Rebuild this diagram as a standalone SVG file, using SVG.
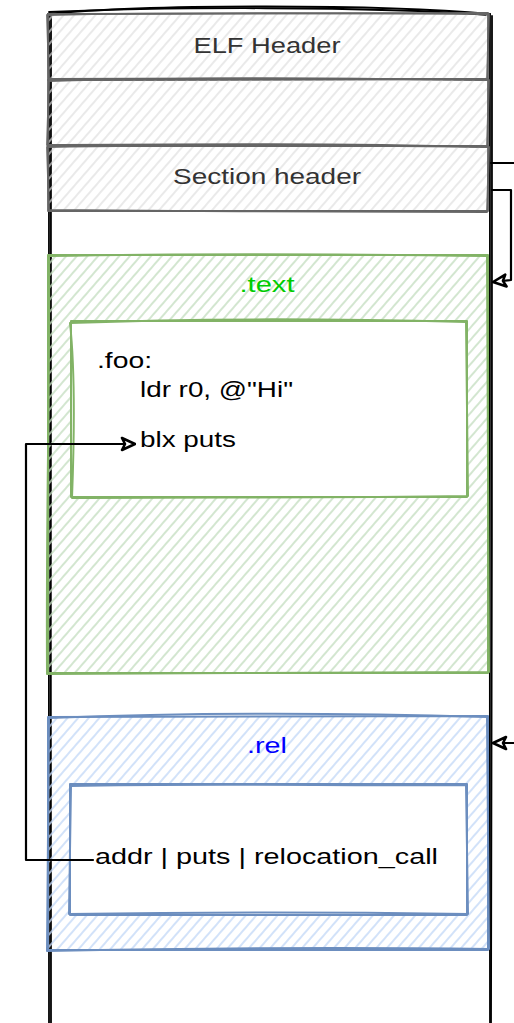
<svg xmlns="http://www.w3.org/2000/svg" width="514" height="1023" viewBox="0 0 514 1023">
<style>
  .sk { fill: none; stroke-linecap: round; stroke-linejoin: round; }
  .gray { stroke: #666666; stroke-width: 1.8; }
  .green { stroke: #82b366; stroke-width: 2; }
  .blue { stroke: #6c8ebf; stroke-width: 2; }
  .ink { stroke: #000000; stroke-width: 1.8; }
  .t { font-family: "Liberation Sans", Arial, sans-serif; font-size: 22px; }
  .hd { fill: #333333; text-anchor: middle; }
  .code { fill: #000000; }
  .conn { fill: none; stroke: #000000; stroke-width: 2.2; stroke-linejoin: round; stroke-linecap: round; }
</style>
<defs>
  <pattern id="hatchGray" patternUnits="userSpaceOnUse" width="8" height="8" patternTransform="rotate(41)">
    <line x1="2" y1="0" x2="2" y2="8" stroke="#dedede" stroke-width="1.3"/>
  </pattern>
  <pattern id="hatchGreen" patternUnits="userSpaceOnUse" width="8" height="8" patternTransform="rotate(41)">
    <line x1="2" y1="0" x2="2" y2="8" stroke="#c4dec1" stroke-width="1.5"/>
  </pattern>
  <pattern id="hatchBlue" patternUnits="userSpaceOnUse" width="8" height="8" patternTransform="rotate(41)">
    <line x1="2" y1="0" x2="2" y2="8" stroke="#c3d9f7" stroke-width="1.5"/>
  </pattern>
  <marker id="openArrow" viewBox="0 0 16 16" refX="15" refY="8" markerWidth="16" markerHeight="16" markerUnits="userSpaceOnUse" orient="auto">
    <path d="M2,2 L15,8 L2,14 L5,8 Z" fill="#ffffff" stroke="#000000" stroke-width="2.6" stroke-linejoin="round"/>
  </marker>
</defs>

<rect x="0" y="0" width="514" height="1023" fill="#ffffff"/>

<!-- outer file container, open at the bottom -->
<g id="elf-file">
  <path class="sk ink" d="M48,14 C150,4 380,4 490,14"/>
  <path class="sk ink" d="M49,12 C160,7 370,6 489,15"/>
  <path class="sk ink" d="M49,14 C47,300 50,700 49,1030"/>
  <path class="sk ink" d="M51,16 C52,300 50,700 51,1030"/>
  <path class="sk ink" d="M490,14 C491,300 489,700 490,1030"/>
  <path class="sk ink" d="M492,16 C491,320 493,720 491,1030"/>
</g>

<!-- header rows -->
<g id="elf-header">
  <rect x="48" y="14" width="440" height="65" fill="url(#hatchGray)"/>
  <path class="sk gray" d="M48,14 L488,13 L488,79 L48,80 Z"/>
  <path class="sk gray" d="M47,15 C200,12 350,13 489,14 L487,80 C330,78 200,78 49,79 Z"/>
  <text class="t hd" x="267" y="53" textLength="147" lengthAdjust="spacingAndGlyphs">ELF Header</text>
</g>

<g id="program-header">
  <rect x="48" y="80" width="440" height="66" fill="url(#hatchGray)"/>
  <path class="sk gray" d="M48,80 L488,79 L488,146 L48,146 Z"/>
  <path class="sk gray" d="M49,81 C200,77 350,78 489,80 L487,147 C330,143 200,144 47,145 Z"/>
</g>

<g id="section-header">
  <rect x="48" y="146" width="440" height="65" fill="url(#hatchGray)"/>
  <path class="sk gray" d="M48,146 L488,146 L488,211 L48,211 Z"/>
  <path class="sk gray" d="M47,147 C200,144 340,145 489,147 L487,212 C330,211 200,212 49,210 Z"/>
  <text class="t hd" x="267" y="184" textLength="188" lengthAdjust="spacingAndGlyphs">Section header</text>
</g>

<!-- .text section -->
<g id="text-section">
  <rect x="48" y="255" width="440" height="418" fill="url(#hatchGreen)"/>
  <path class="sk green" d="M48,255 L488,255 L488,673 L48,673 Z"/>
  <path class="sk green" d="M49,256 C200,253 350,254 487,256 L489,672 C330,674 200,672 47,674 C46,500 50,400 49,256 Z"/>
  <text class="t" x="267" y="292" fill="#00cc00" text-anchor="middle" textLength="55" lengthAdjust="spacingAndGlyphs">.text</text>
</g>

<g id="foo-code">
  <rect x="71" y="321" width="396" height="176" fill="#ffffff"/>
  <path class="sk green" d="M71,321 L467,321 L467,497 L71,497 Z"/>
  <path class="sk green" d="M70,323 C200,318 350,319 466,322 L468,496 C330,498 200,497 72,498 C75,420 74,360 70,323 Z"/>
  <text class="t code" x="97" y="368" textLength="55" lengthAdjust="spacingAndGlyphs">.foo:</text>
  <text class="t code" x="140" y="397" textLength="153" lengthAdjust="spacingAndGlyphs">ldr r0, @"Hi"</text>
  <text class="t code" x="140" y="447" textLength="96" lengthAdjust="spacingAndGlyphs">blx puts</text>
</g>

<!-- .rel section -->
<g id="rel-section">
  <rect x="48" y="716" width="440" height="234" fill="url(#hatchBlue)"/>
  <path class="sk blue" d="M48,717 L488,716 L488,950 L48,950 Z"/>
  <path class="sk blue" d="M49,718 C200,712 350,713 487,717 L489,949 C330,947 200,948 47,951 Z"/>
  <text class="t" x="267" y="753" fill="#0000ff" text-anchor="middle" textLength="40" lengthAdjust="spacingAndGlyphs">.rel</text>
</g>

<g id="rel-entry">
  <rect x="70" y="784" width="397" height="131" fill="#ffffff"/>
  <path class="sk blue" d="M70,784 L467,784 L467,915 L70,915 Z"/>
  <path class="sk blue" d="M71,786 C200,783 350,786 466,785 L468,914 C330,912 200,912 69,914 Z"/>
  <text class="t code" x="95" y="864" textLength="343" lengthAdjust="spacingAndGlyphs">addr | puts | relocation_call</text>
</g>

<!-- connectors -->
<g id="connectors">
  <path class="conn" d="M93,860 L26,860 L26,444 L135,444" marker-end="url(#openArrow)"/>
  <path class="conn" d="M491,163 L516,163"/>
  <path class="conn" d="M492,190 L511,190 L511,280 L493,282" marker-end="url(#openArrow)"/>
  <path class="conn" d="M516,743 L493,743" marker-end="url(#openArrow)"/>
</g>
</svg>
